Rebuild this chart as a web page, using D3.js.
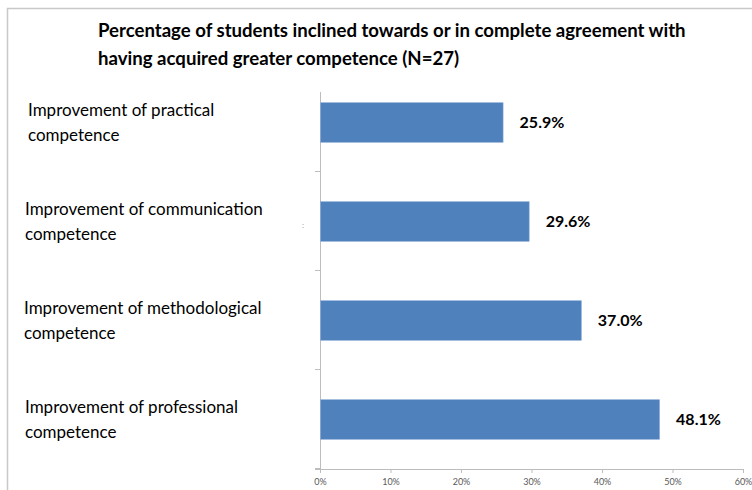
<!DOCTYPE html>
<html lang="en">
<head>
  <meta charset="UTF-8" />
  <title>Competence bars</title>
  <script src="https://cdn.jsdelivr.net/npm/d3@7"></script>
  <style>
    body { margin: 0; background: #fff; }
    text { font-family: Lato, "Open Sans", sans-serif; }
  </style>
</head>
<body>
  <svg id="chart" width="752" height="490"></svg>
  <script>
    // data
    let categories = [
      ["Improvement of practical", "competence"],
      ["Improvement of communication", "competence"],
      ["Improvement of methodological", "competence"],
      ["Improvement of professional", "competence"]
    ];
    let values = [25.9, 29.6, 37.0, 48.1];
    let xTicks = [0, 10, 20, 30, 40, 50, 60];
    let titleLines = [
      "Percentage of students inclined towards or in complete agreement with",
      "having acquired greater competence (N=27)"
    ];

    let svg = d3.select("#chart");

    // frame of the chart area
    svg.append("path")
      .attr("d", "M7.5,500 V8.5 H760")
      .attr("fill", "none")
      .attr("stroke", "#c8c8c8")
      .attr("stroke-width", 1.5);

    // title
    svg.append("g").selectAll("text")
      .data(titleLines)
      .join("text")
      .attr("x", 98)
      .attr("y", (d, i) => 37 + i * 28)
      .style("font-size", "18.6px")
      .style("font-weight", "bold")
      .attr("fill", "#000")
      .text(d => d);

    let idx = d3.range(categories.length);
    let x = d3.scaleLinear().domain([0, 60]).range([320, 743]);
    let y = d3.scaleBand().domain(idx).range([73, 469]).paddingInner(0.6).paddingOuter(0.3);
    let step = y.step();
    let top0 = 73;

    // y axis line + ticks at band boundaries
    svg.append("line")
      .attr("x1", 320.5).attr("x2", 320.5)
      .attr("y1", 92).attr("y2", 469)
      .attr("stroke", "#bdbdbd");
    svg.append("g").selectAll("line")
      .data(idx)
      .join("line")
      .attr("x1", 315).attr("x2", 320)
      .attr("y1", d => Math.round(top0 + step * (d + 1)) - 0.5)
      .attr("y2", d => Math.round(top0 + step * (d + 1)) - 0.5)
      .attr("stroke", "#bdbdbd");

    // x axis
    let xAxis = svg.append("g")
      .attr("transform", "translate(0,469)")
      .call(d3.axisBottom(x).tickValues(xTicks).tickSize(4).tickFormat(d => d + "%"));
    xAxis.select(".domain").attr("stroke", "#bdbdbd").attr("d", "M315,0.5H743.5");
    xAxis.selectAll(".tick line").attr("stroke", "#bdbdbd");
    xAxis.selectAll(".tick text")
      .attr("fill", "#595959")
      .attr("y", 10)
      .style("font-size", "9px")
      .style("font-family", "Lato, sans-serif");

    // bars
    svg.append("g").selectAll("rect")
      .data(values)
      .join("rect")
      .attr("x", x(0) + 0.5)
      .attr("y", (d, i) => y(i))
      .attr("width", d => x(d) - x(0))
      .attr("height", y.bandwidth())
      .attr("fill", "#4f81bd")
      .attr("stroke", "#8eaedb")
      .attr("stroke-width", 0.6);

    // value labels
    svg.append("g").selectAll("text")
      .data(values)
      .join("text")
      .attr("x", d => x(d) + 17)
      .attr("y", (d, i) => y(i) + y.bandwidth() / 2 + 5)
      .style("font-size", "16px")
      .style("font-weight", "bold")
      .attr("fill", "#000")
      .text(d => d.toFixed(1) + "%");

    // category labels
    let labelX = [28, 25, 24, 25];
    let cat = svg.append("g").selectAll("text")
      .data(categories)
      .join("text")
      .attr("x", (d, i) => labelX[i])
      .attr("y", (d, i) => y(i) + 13)
      .style("font-size", "17px")
      .attr("fill", "#000");
    cat.selectAll("tspan")
      .data(d => d)
      .join("tspan")
      .attr("x", function () { return this.parentNode.getAttribute("x"); })
      .attr("dy", (d, j) => j === 0 ? 0 : 25.5)
      .text(d => d);

    // stray mark near the axis
    svg.append("text")
      .attr("x", 302).attr("y", 228)
      .style("font-size", "8px")
      .attr("fill", "#999")
      .text(":");
  </script>
</body>
</html>
